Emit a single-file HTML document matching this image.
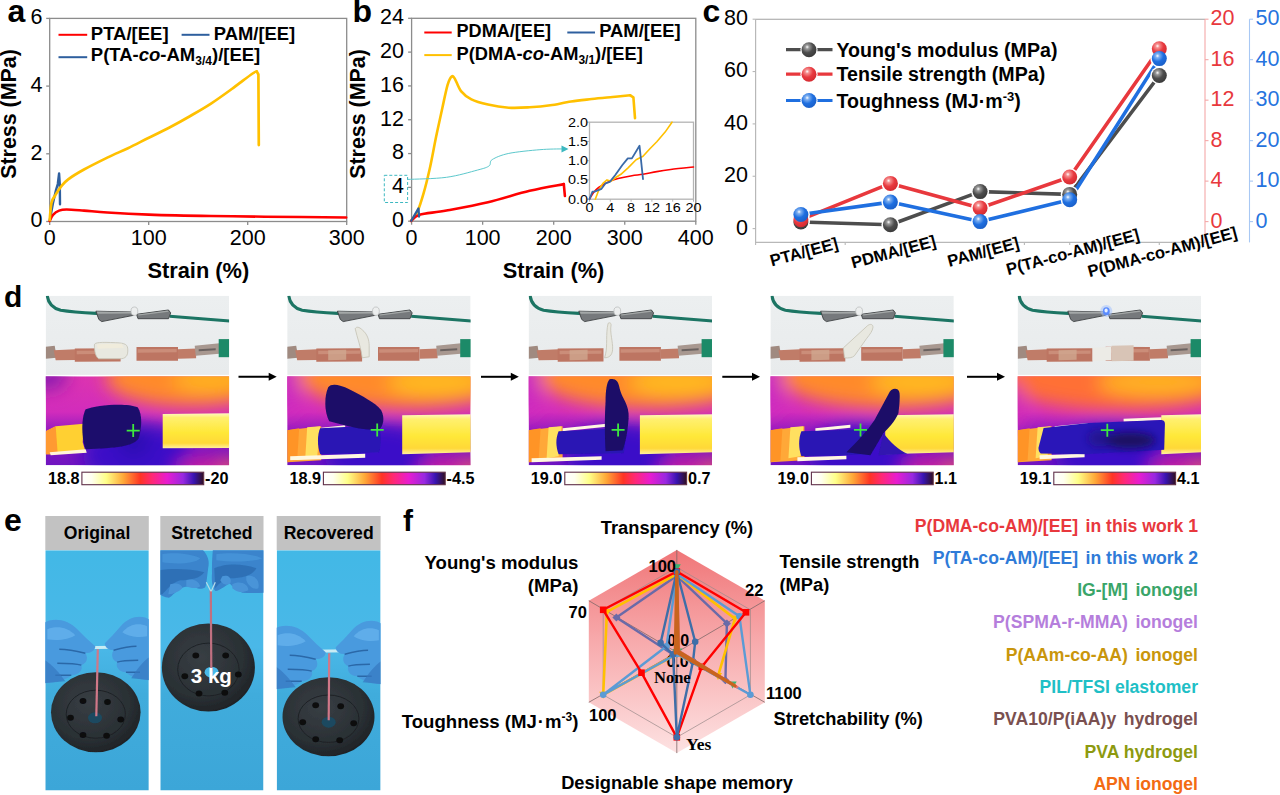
<!DOCTYPE html>
<html><head><meta charset="utf-8"><title>Figure</title>
<style>
html,body{margin:0;padding:0;background:#fff;width:1280px;height:795px;overflow:hidden}
svg text{font-family:"Liberation Sans",sans-serif}
</style></head><body>
<svg width="1280" height="795" viewBox="0 0 1280 795" style="display:block">
<rect width="1280" height="795" fill="#fff"/>
<text x="7.6" y="22.3" font-size="32" font-weight="bold" text-anchor="start" fill="#000" >a</text>
<rect x="49.7" y="18.4" width="297.0" height="203.1" fill="none" stroke="#8c8c8c" stroke-width="1.3"/>
<line x1="46.2" y1="221.5" x2="49.7" y2="221.5" stroke="#8c8c8c" stroke-width="1.3"/>
<text x="42.5" y="227.4" font-size="21.5" font-weight="normal" text-anchor="end" fill="#000" >0</text>
<line x1="46.2" y1="153.8" x2="49.7" y2="153.8" stroke="#8c8c8c" stroke-width="1.3"/>
<text x="42.5" y="159.70000000000002" font-size="21.5" font-weight="normal" text-anchor="end" fill="#000" >2</text>
<line x1="46.2" y1="86.1" x2="49.7" y2="86.1" stroke="#8c8c8c" stroke-width="1.3"/>
<text x="42.5" y="92.0" font-size="21.5" font-weight="normal" text-anchor="end" fill="#000" >4</text>
<line x1="46.2" y1="18.400000000000006" x2="49.7" y2="18.400000000000006" stroke="#8c8c8c" stroke-width="1.3"/>
<text x="42.5" y="24.300000000000004" font-size="21.5" font-weight="normal" text-anchor="end" fill="#000" >6</text>
<line x1="49.7" y1="221.5" x2="49.7" y2="225.0" stroke="#8c8c8c" stroke-width="1.3"/>
<text x="49.7" y="244.7" font-size="21.5" font-weight="normal" text-anchor="middle" fill="#000" >0</text>
<line x1="148.7" y1="221.5" x2="148.7" y2="225.0" stroke="#8c8c8c" stroke-width="1.3"/>
<text x="148.7" y="244.7" font-size="21.5" font-weight="normal" text-anchor="middle" fill="#000" >100</text>
<line x1="247.7" y1="221.5" x2="247.7" y2="225.0" stroke="#8c8c8c" stroke-width="1.3"/>
<text x="247.7" y="244.7" font-size="21.5" font-weight="normal" text-anchor="middle" fill="#000" >200</text>
<line x1="346.7" y1="221.5" x2="346.7" y2="225.0" stroke="#8c8c8c" stroke-width="1.3"/>
<text x="346.7" y="244.7" font-size="21.5" font-weight="normal" text-anchor="middle" fill="#000" >300</text>
<text x="198.3" y="278" font-size="21.8" font-weight="bold" text-anchor="middle" fill="#000" >Strain (%)</text>
<text x="0" y="0" font-size="21.4" font-weight="bold" text-anchor="middle" fill="#000" transform="translate(16,114) rotate(-90)">Stress (MPa)</text>
<line x1="58.5" y1="34.8" x2="87.2" y2="34.8" stroke="#ff0000" stroke-width="2"/>
<text x="90.8" y="39.6" font-size="18.5" font-weight="bold" text-anchor="start" fill="#000" >PTA/[EE]</text>
<line x1="181.6" y1="34.8" x2="209.5" y2="34.8" stroke="#2e5f9e" stroke-width="2"/>
<text x="213.8" y="39.6" font-size="18.4" font-weight="bold" text-anchor="start" fill="#000" >PAM/[EE]</text>
<line x1="58.5" y1="57.2" x2="87.2" y2="57.2" stroke="#2e5f9e" stroke-width="2"/>
<text x="90.8" y="61" font-size="18.5" font-weight="bold">P(TA-<tspan font-style="italic">co</tspan>-AM<tspan font-size="12" dy="4">3/4</tspan><tspan dy="-4">)/[EE]</tspan></text>
<path d="M49.8,220.0 L53.0,203.0 L56.0,190.0 L57.8,184.0 L59.1,173.5 L59.8,184.5 L60.0,204.2" fill="none" stroke="#2e5f9e" stroke-width="2.4" stroke-linejoin="round" stroke-linecap="round" />
<path d="M49.7,221.0 C50.2,220.0 51.4,216.5 53.0,214.8 C54.6,213.1 56.8,211.5 59.1,210.6 C61.4,209.7 62.4,209.5 66.6,209.5 C70.8,209.5 77.2,210.1 84.0,210.6 C90.8,211.1 96.5,211.8 107.3,212.5 C118.1,213.2 131.5,214.0 148.8,214.6 C166.1,215.2 191.6,215.7 211.0,216.0 C230.4,216.3 242.5,216.4 265.0,216.7 C287.5,216.9 332.7,217.4 346.2,217.5" fill="none" stroke="#ff0000" stroke-width="2.6" stroke-linejoin="round" stroke-linecap="round" />
<path d="M49.7,220.0 C50.0,217.1 50.6,206.8 51.5,202.7 C52.4,198.6 53.6,198.0 55.3,195.2 C56.9,192.4 59.2,188.8 61.4,186.1 C63.5,183.4 64.4,182.1 68.2,179.3 C72.0,176.5 77.5,173.1 84.0,169.5 C90.5,165.9 100.0,161.2 107.3,157.6 C114.6,154.0 121.1,151.5 128.0,148.2 C134.9,144.9 141.9,141.2 148.8,137.8 C155.7,134.4 162.6,131.1 169.5,127.5 C176.4,123.9 183.4,120.0 190.3,116.0 C197.2,112.0 204.1,108.1 211.0,103.6 C217.9,99.1 224.9,94.0 231.8,89.0 C238.7,84.0 248.4,76.4 252.6,73.5 C256.8,70.6 256.0,71.8 256.7,71.4" fill="none" stroke="#ffc000" stroke-width="2.7" stroke-linejoin="round" stroke-linecap="round" />
<path d="M256.7,71.4 L258.4,74.5 L258.8,145.1" fill="none" stroke="#ffc000" stroke-width="2.7" stroke-linejoin="round" stroke-linecap="round" />
<text x="352.6" y="22.3" font-size="32" font-weight="bold" text-anchor="start" fill="#000" >b</text>
<rect x="411.6" y="18.3" width="284.19999999999993" height="202.89999999999998" fill="none" stroke="#8c8c8c" stroke-width="1.3"/>
<line x1="408.1" y1="221.2" x2="411.6" y2="221.2" stroke="#8c8c8c" stroke-width="1.3"/>
<text x="404" y="227.1" font-size="21.5" font-weight="normal" text-anchor="end" fill="#000" >0</text>
<line x1="408.1" y1="187.38333333333333" x2="411.6" y2="187.38333333333333" stroke="#8c8c8c" stroke-width="1.3"/>
<text x="404" y="193.28333333333333" font-size="21.5" font-weight="normal" text-anchor="end" fill="#000" >4</text>
<line x1="408.1" y1="153.56666666666666" x2="411.6" y2="153.56666666666666" stroke="#8c8c8c" stroke-width="1.3"/>
<text x="404" y="159.46666666666667" font-size="21.5" font-weight="normal" text-anchor="end" fill="#000" >8</text>
<line x1="408.1" y1="119.75" x2="411.6" y2="119.75" stroke="#8c8c8c" stroke-width="1.3"/>
<text x="404" y="125.65" font-size="21.5" font-weight="normal" text-anchor="end" fill="#000" >12</text>
<line x1="408.1" y1="85.93333333333334" x2="411.6" y2="85.93333333333334" stroke="#8c8c8c" stroke-width="1.3"/>
<text x="404" y="91.83333333333334" font-size="21.5" font-weight="normal" text-anchor="end" fill="#000" >16</text>
<line x1="408.1" y1="52.116666666666674" x2="411.6" y2="52.116666666666674" stroke="#8c8c8c" stroke-width="1.3"/>
<text x="404" y="58.01666666666667" font-size="21.5" font-weight="normal" text-anchor="end" fill="#000" >20</text>
<line x1="408.1" y1="18.30000000000001" x2="411.6" y2="18.30000000000001" stroke="#8c8c8c" stroke-width="1.3"/>
<text x="404" y="24.20000000000001" font-size="21.5" font-weight="normal" text-anchor="end" fill="#000" >24</text>
<line x1="411.6" y1="221.2" x2="411.6" y2="224.7" stroke="#8c8c8c" stroke-width="1.3"/>
<text x="411.6" y="244.7" font-size="21.5" font-weight="normal" text-anchor="middle" fill="#000" >0</text>
<line x1="482.65" y1="221.2" x2="482.65" y2="224.7" stroke="#8c8c8c" stroke-width="1.3"/>
<text x="482.65" y="244.7" font-size="21.5" font-weight="normal" text-anchor="middle" fill="#000" >100</text>
<line x1="553.7" y1="221.2" x2="553.7" y2="224.7" stroke="#8c8c8c" stroke-width="1.3"/>
<text x="553.7" y="244.7" font-size="21.5" font-weight="normal" text-anchor="middle" fill="#000" >200</text>
<line x1="624.75" y1="221.2" x2="624.75" y2="224.7" stroke="#8c8c8c" stroke-width="1.3"/>
<text x="624.75" y="244.7" font-size="21.5" font-weight="normal" text-anchor="middle" fill="#000" >300</text>
<line x1="695.8" y1="221.2" x2="695.8" y2="224.7" stroke="#8c8c8c" stroke-width="1.3"/>
<text x="695.8" y="244.7" font-size="21.5" font-weight="normal" text-anchor="middle" fill="#000" >400</text>
<text x="553.5" y="278" font-size="21.8" font-weight="bold" text-anchor="middle" fill="#000" >Strain (%)</text>
<text x="0" y="0" font-size="21.4" font-weight="bold" text-anchor="middle" fill="#000" transform="translate(365,114) rotate(-90)">Stress (MPa)</text>
<line x1="424.3" y1="32.5" x2="451.7" y2="32.5" stroke="#ff0000" stroke-width="2"/>
<text x="456.5" y="37" font-size="18.1" font-weight="bold" text-anchor="start" fill="#000" >PDMA/[EE]</text>
<line x1="567.3" y1="32.5" x2="595" y2="32.5" stroke="#2e5f9e" stroke-width="2"/>
<text x="599.2" y="37" font-size="18.4" font-weight="bold" text-anchor="start" fill="#000" >PAM/[EE]</text>
<line x1="424.3" y1="55.1" x2="451.7" y2="55.1" stroke="#ffc000" stroke-width="2"/>
<text x="456.5" y="59.5" font-size="18.3" font-weight="bold">P(DMA-<tspan font-style="italic">co</tspan>-AM<tspan font-size="12" dy="4">3/1</tspan><tspan dy="-4">)/[EE]</tspan></text>
<path d="M411.2,220.9 C412.2,219.3 415.4,216.2 417.5,211.5 C419.6,206.8 421.6,200.2 423.7,192.9 C425.8,185.7 427.8,177.3 429.9,168.0 C432.0,158.7 434.0,146.9 436.1,136.8 C438.2,126.8 440.5,116.4 442.4,107.7 C444.3,99.0 446.1,90.1 447.6,84.9 C449.2,79.7 450.5,77.6 451.7,76.6 C452.9,75.6 453.2,76.3 454.8,78.7 C456.4,81.1 458.2,87.6 461.0,91.1 C463.8,94.5 466.9,97.2 471.4,99.4 C475.9,101.7 481.8,103.2 488.0,104.6 C494.2,106.0 501.9,107.2 508.8,107.7 C515.7,108.2 522.7,107.7 529.6,107.3 C536.5,106.9 543.4,106.3 550.3,105.3 C557.2,104.3 564.2,102.5 571.1,101.5 C578.0,100.5 584.9,99.8 591.8,99.0 C598.7,98.2 606.2,97.6 612.6,97.0 C619.0,96.4 627.3,95.6 630.2,95.3" fill="none" stroke="#ffc000" stroke-width="2.6" stroke-linejoin="round" stroke-linecap="round" />
<path d="M630.2,95.3 L633.4,97.4 L635.0,118.1" fill="none" stroke="#ffc000" stroke-width="2.6" stroke-linejoin="round" stroke-linecap="round" />
<path d="M411.2,220.9 C412.6,219.9 413.6,216.4 419.5,214.7 C425.4,213.0 435.1,212.6 446.5,210.5 C457.9,208.4 474.1,205.5 488.0,202.2 C501.9,198.9 517.0,193.8 529.6,190.8 C542.2,187.8 558.1,185.2 563.8,184.1" fill="none" stroke="#ff0000" stroke-width="2.6" stroke-linejoin="round" stroke-linecap="round" />
<path d="M563.8,184.1 L564.9,196.0" fill="none" stroke="#ff0000" stroke-width="2.6" stroke-linejoin="round" stroke-linecap="round" />
<path d="M411.2,220.9 L418.5,208.4 L419.1,216.7" fill="none" stroke="#2e5f9e" stroke-width="2.2" stroke-linejoin="round" stroke-linecap="round" />
<rect x="384.3" y="175.3" width="23.3" height="27.2" fill="none" stroke="#3cb8c0" stroke-width="1" stroke-dasharray="3,2"/>
<path d="M407.6,179.4 C414.1,179.1 434.8,178.9 446.5,177.3 C458.2,175.7 470.6,171.9 477.7,170.0 C484.8,168.1 486.7,167.6 489.1,165.9 C491.5,164.2 488.9,161.7 492.2,159.6 C495.5,157.5 500.9,155.1 508.8,153.4 C516.8,151.8 530.9,150.4 539.9,149.7 C548.9,148.9 559.0,149.0 562.8,148.9" fill="none" stroke="#5cc8cc" stroke-width="1" stroke-linejoin="round" stroke-linecap="round" />
<path d="M568.5,148.9 L561.5,145.4 L561.5,152.4 Z" fill="#3cb8c0"/>
<rect x="589.5" y="122.2" width="104.0" height="76.99999999999999" fill="#fff" stroke="#b4b4b4" stroke-width="1.3"/>
<line x1="587.0" y1="199.2" x2="589.5" y2="199.2" stroke="#b4b4b4" stroke-width="1"/>
<text transform="translate(588,203.5) scale(1.2,1)" font-size="12" text-anchor="end">0.0</text>
<line x1="587.0" y1="179.95" x2="589.5" y2="179.95" stroke="#b4b4b4" stroke-width="1"/>
<text transform="translate(588,184.25) scale(1.2,1)" font-size="12" text-anchor="end">0.5</text>
<line x1="587.0" y1="160.7" x2="589.5" y2="160.7" stroke="#b4b4b4" stroke-width="1"/>
<text transform="translate(588,165.0) scale(1.2,1)" font-size="12" text-anchor="end">1.0</text>
<line x1="587.0" y1="141.45" x2="589.5" y2="141.45" stroke="#b4b4b4" stroke-width="1"/>
<text transform="translate(588,145.75) scale(1.2,1)" font-size="12" text-anchor="end">1.5</text>
<line x1="587.0" y1="122.2" x2="589.5" y2="122.2" stroke="#b4b4b4" stroke-width="1"/>
<text transform="translate(588,126.5) scale(1.2,1)" font-size="12" text-anchor="end">2.0</text>
<line x1="589.5" y1="199.2" x2="589.5" y2="201.7" stroke="#b4b4b4" stroke-width="1"/>
<text transform="translate(589.5,212.4) scale(1.2,1)" font-size="12" text-anchor="middle">0</text>
<line x1="610.3" y1="199.2" x2="610.3" y2="201.7" stroke="#b4b4b4" stroke-width="1"/>
<text transform="translate(610.3,212.4) scale(1.2,1)" font-size="12" text-anchor="middle">4</text>
<line x1="631.1" y1="199.2" x2="631.1" y2="201.7" stroke="#b4b4b4" stroke-width="1"/>
<text transform="translate(631.1,212.4) scale(1.2,1)" font-size="12" text-anchor="middle">8</text>
<line x1="651.9" y1="199.2" x2="651.9" y2="201.7" stroke="#b4b4b4" stroke-width="1"/>
<text transform="translate(651.9,212.4) scale(1.2,1)" font-size="12" text-anchor="middle">12</text>
<line x1="672.7" y1="199.2" x2="672.7" y2="201.7" stroke="#b4b4b4" stroke-width="1"/>
<text transform="translate(672.7,212.4) scale(1.2,1)" font-size="12" text-anchor="middle">16</text>
<line x1="693.5" y1="199.2" x2="693.5" y2="201.7" stroke="#b4b4b4" stroke-width="1"/>
<text transform="translate(693.5,212.4) scale(1.2,1)" font-size="12" text-anchor="middle">20</text>
<path d="M589.5,199.2 C590.1,198.2 591.7,194.9 593.2,193.0 C594.7,191.1 596.2,189.3 598.7,187.5 C601.2,185.7 605.2,183.4 608.4,181.9 C611.6,180.4 614.2,179.5 618.1,178.5 C622.0,177.5 627.8,176.4 631.9,175.7 C636.0,175.0 638.9,175.0 643.0,174.3 C647.1,173.6 652.2,172.4 656.8,171.6 C661.4,170.8 664.6,170.3 670.7,169.5 C676.8,168.7 689.7,167.4 693.5,167.0" fill="none" stroke="#ff0000" stroke-width="1.6" stroke-linejoin="round" stroke-linecap="round" />
<path d="M595.3,199.2 L598.7,190.2 L602.9,183.3 L607.0,179.9 L611.2,181.2 L615.3,177.8 L620.9,174.3 L627.8,168.1 L636.1,159.8 L643.0,156.3 L649.9,148.7 L656.8,141.8 L665.1,132.1 L672.0,122.2" fill="none" stroke="#ffc000" stroke-width="1.6" stroke-linejoin="round" stroke-linecap="round" />
<path d="M589.5,199.2 L592.5,191.6 L594.6,191.6 L601.5,188.8 L605.6,183.3 L609.8,181.9 L615.3,175.0 L622.2,165.3 L627.8,158.4 L631.9,158.4 L639.5,145.7 L643.0,179.2" fill="none" stroke="#3a6aa8" stroke-width="1.8" stroke-linejoin="round" stroke-linecap="round" />
<defs>
<radialGradient id="sg_k" cx="0.38" cy="0.32" r="0.7"><stop offset="0" stop-color="#ffffff"/><stop offset="0.18" stop-color="#9a9a9a"/><stop offset="0.55" stop-color="#4d4d4d"/><stop offset="1" stop-color="#3a3a3a"/></radialGradient>
<radialGradient id="sg_r" cx="0.38" cy="0.32" r="0.7"><stop offset="0" stop-color="#ffffff"/><stop offset="0.18" stop-color="#f59090"/><stop offset="0.55" stop-color="#e83a40"/><stop offset="1" stop-color="#d42a30"/></radialGradient>
<radialGradient id="sg_b" cx="0.38" cy="0.32" r="0.7"><stop offset="0" stop-color="#ffffff"/><stop offset="0.18" stop-color="#7fb0f0"/><stop offset="0.55" stop-color="#1f6fe0"/><stop offset="1" stop-color="#1a5fc8"/></radialGradient>
</defs>
<text x="702.5" y="22.3" font-size="32" font-weight="bold" text-anchor="start" fill="#000" >c</text>
<line x1="755.6" y1="19.2" x2="1205" y2="19.2" stroke="#a0a0a0" stroke-width="1.1"/>
<path d="M755.6,19.2 L755.6,242.4 L1205,242.4" fill="none" stroke="#b8b8b8" stroke-width="1.2"/>
<line x1="1205" y1="19.2" x2="1205" y2="242.4" stroke="#f4a8a8" stroke-width="1.1"/>
<line x1="1249.5" y1="19.2" x2="1249.5" y2="242.4" stroke="#a8c8f4" stroke-width="1.1"/>
<line x1="752.6" y1="228.6" x2="755.6" y2="228.6" stroke="#b8b8b8" stroke-width="1.1"/>
<text x="748" y="234.5" font-size="21.5" font-weight="normal" text-anchor="end" fill="#000" >0</text>
<line x1="752.6" y1="176.25" x2="755.6" y2="176.25" stroke="#b8b8b8" stroke-width="1.1"/>
<text x="748" y="182.15" font-size="21.5" font-weight="normal" text-anchor="end" fill="#000" >20</text>
<line x1="752.6" y1="123.89999999999999" x2="755.6" y2="123.89999999999999" stroke="#b8b8b8" stroke-width="1.1"/>
<text x="748" y="129.79999999999998" font-size="21.5" font-weight="normal" text-anchor="end" fill="#000" >40</text>
<line x1="752.6" y1="71.54999999999998" x2="755.6" y2="71.54999999999998" stroke="#b8b8b8" stroke-width="1.1"/>
<text x="748" y="77.44999999999999" font-size="21.5" font-weight="normal" text-anchor="end" fill="#000" >60</text>
<line x1="752.6" y1="19.19999999999999" x2="755.6" y2="19.19999999999999" stroke="#b8b8b8" stroke-width="1.1"/>
<text x="748" y="25.099999999999987" font-size="21.5" font-weight="normal" text-anchor="end" fill="#000" >80</text>
<line x1="1205" y1="221.6" x2="1208.5" y2="221.6" stroke="#f4a8a8" stroke-width="1.1"/>
<text x="1210.5" y="227.5" font-size="21.5" font-weight="normal" text-anchor="start" fill="#e8383d" >0</text>
<line x1="1249.5" y1="221.6" x2="1253" y2="221.6" stroke="#a8c8f4" stroke-width="1.1"/>
<text x="1255.5" y="227.5" font-size="21.5" font-weight="normal" text-anchor="start" fill="#2673de" >0</text>
<line x1="1205" y1="181.12" x2="1208.5" y2="181.12" stroke="#f4a8a8" stroke-width="1.1"/>
<text x="1210.5" y="187.02" font-size="21.5" font-weight="normal" text-anchor="start" fill="#e8383d" >4</text>
<line x1="1249.5" y1="181.12" x2="1253" y2="181.12" stroke="#a8c8f4" stroke-width="1.1"/>
<text x="1255.5" y="187.02" font-size="21.5" font-weight="normal" text-anchor="start" fill="#2673de" >10</text>
<line x1="1205" y1="140.64" x2="1208.5" y2="140.64" stroke="#f4a8a8" stroke-width="1.1"/>
<text x="1210.5" y="146.54" font-size="21.5" font-weight="normal" text-anchor="start" fill="#e8383d" >8</text>
<line x1="1249.5" y1="140.64" x2="1253" y2="140.64" stroke="#a8c8f4" stroke-width="1.1"/>
<text x="1255.5" y="146.54" font-size="21.5" font-weight="normal" text-anchor="start" fill="#2673de" >20</text>
<line x1="1205" y1="100.16" x2="1208.5" y2="100.16" stroke="#f4a8a8" stroke-width="1.1"/>
<text x="1210.5" y="106.06" font-size="21.5" font-weight="normal" text-anchor="start" fill="#e8383d" >12</text>
<line x1="1249.5" y1="100.16" x2="1253" y2="100.16" stroke="#a8c8f4" stroke-width="1.1"/>
<text x="1255.5" y="106.06" font-size="21.5" font-weight="normal" text-anchor="start" fill="#2673de" >30</text>
<line x1="1205" y1="59.68000000000001" x2="1208.5" y2="59.68000000000001" stroke="#f4a8a8" stroke-width="1.1"/>
<text x="1210.5" y="65.58000000000001" font-size="21.5" font-weight="normal" text-anchor="start" fill="#e8383d" >16</text>
<line x1="1249.5" y1="59.68000000000001" x2="1253" y2="59.68000000000001" stroke="#a8c8f4" stroke-width="1.1"/>
<text x="1255.5" y="65.58000000000001" font-size="21.5" font-weight="normal" text-anchor="start" fill="#2673de" >40</text>
<line x1="1205" y1="19.200000000000017" x2="1208.5" y2="19.200000000000017" stroke="#f4a8a8" stroke-width="1.1"/>
<text x="1210.5" y="25.100000000000016" font-size="21.5" font-weight="normal" text-anchor="start" fill="#e8383d" >20</text>
<line x1="1249.5" y1="19.200000000000017" x2="1253" y2="19.200000000000017" stroke="#a8c8f4" stroke-width="1.1"/>
<text x="1255.5" y="25.100000000000016" font-size="21.5" font-weight="normal" text-anchor="start" fill="#2673de" >50</text>
<line x1="755.6" y1="242.4" x2="755.6" y2="244.9" stroke="#b8b8b8" stroke-width="1.1"/>
<line x1="845.2" y1="242.4" x2="845.2" y2="244.9" stroke="#b8b8b8" stroke-width="1.1"/>
<line x1="934.8" y1="242.4" x2="934.8" y2="244.9" stroke="#b8b8b8" stroke-width="1.1"/>
<line x1="1024.4" y1="242.4" x2="1024.4" y2="244.9" stroke="#b8b8b8" stroke-width="1.1"/>
<line x1="1114.0" y1="242.4" x2="1114.0" y2="244.9" stroke="#b8b8b8" stroke-width="1.1"/>
<line x1="1203.6" y1="242.4" x2="1203.6" y2="244.9" stroke="#b8b8b8" stroke-width="1.1"/>
<line x1="800.9" y1="242.4" x2="800.9" y2="244.9" stroke="#b8b8b8" stroke-width="1.1"/>
<line x1="890.4" y1="242.4" x2="890.4" y2="244.9" stroke="#b8b8b8" stroke-width="1.1"/>
<line x1="980.1" y1="242.4" x2="980.1" y2="244.9" stroke="#b8b8b8" stroke-width="1.1"/>
<line x1="1069.7" y1="242.4" x2="1069.7" y2="244.9" stroke="#b8b8b8" stroke-width="1.1"/>
<line x1="1159.3" y1="242.4" x2="1159.3" y2="244.9" stroke="#b8b8b8" stroke-width="1.1"/>
<text transform="translate(805.4,257.4) rotate(-15)" font-size="16.6" font-weight="bold" text-anchor="middle">PTA/[EE]</text>
<text transform="translate(894.9,257.4) rotate(-15)" font-size="16.6" font-weight="bold" text-anchor="middle">PDMA/[EE]</text>
<text transform="translate(984.6,257.4) rotate(-15)" font-size="16.6" font-weight="bold" text-anchor="middle">PAM/[EE]</text>
<text transform="translate(1074.2,257.4) rotate(-15)" font-size="16.6" font-weight="bold" text-anchor="middle">P(TA-co-AM)/[EE]</text>
<text transform="translate(1163.8,257.4) rotate(-15)" font-size="16.6" font-weight="bold" text-anchor="middle">P(DMA-co-AM)/[EE]</text>
<path d="M800.9,222 L890.4,224.8 L980.1,191.6 L1069.7,194.4 L1159.3,75.5" fill="none" stroke="#4d4d4d" stroke-width="3.6" stroke-linejoin="round"/>
<path d="M800.9,219.7 L890.4,183.4 L980.1,208 L1069.7,177 L1159.3,48.7" fill="none" stroke="#e8383d" stroke-width="3.6" stroke-linejoin="round"/>
<path d="M800.9,214.5 L890.4,202.1 L980.1,221.6 L1069.7,199.8 L1159.3,58.6" fill="none" stroke="#1f6fe0" stroke-width="3.6" stroke-linejoin="round"/>
<circle cx="800.9" cy="222" r="9" fill="#fff"/>
<circle cx="890.4" cy="224.8" r="9" fill="#fff"/>
<circle cx="980.1" cy="191.6" r="9" fill="#fff"/>
<circle cx="1069.7" cy="194.4" r="9" fill="#fff"/>
<circle cx="1159.3" cy="75.5" r="9" fill="#fff"/>
<circle cx="800.9" cy="219.7" r="9" fill="#fff"/>
<circle cx="890.4" cy="183.4" r="9" fill="#fff"/>
<circle cx="980.1" cy="208" r="9" fill="#fff"/>
<circle cx="1069.7" cy="177" r="9" fill="#fff"/>
<circle cx="1159.3" cy="48.7" r="9" fill="#fff"/>
<circle cx="800.9" cy="214.5" r="9" fill="#fff"/>
<circle cx="890.4" cy="202.1" r="9" fill="#fff"/>
<circle cx="980.1" cy="221.6" r="9" fill="#fff"/>
<circle cx="1069.7" cy="199.8" r="9" fill="#fff"/>
<circle cx="1159.3" cy="58.6" r="9" fill="#fff"/>
<circle cx="800.9" cy="222" r="7.5" fill="url(#sg_k)"/>
<circle cx="890.4" cy="224.8" r="7.5" fill="url(#sg_k)"/>
<circle cx="980.1" cy="191.6" r="7.5" fill="url(#sg_k)"/>
<circle cx="1069.7" cy="194.4" r="7.5" fill="url(#sg_k)"/>
<circle cx="1159.3" cy="75.5" r="7.5" fill="url(#sg_k)"/>
<circle cx="800.9" cy="219.7" r="7.5" fill="url(#sg_r)"/>
<circle cx="890.4" cy="183.4" r="7.5" fill="url(#sg_r)"/>
<circle cx="980.1" cy="208" r="7.5" fill="url(#sg_r)"/>
<circle cx="1069.7" cy="177" r="7.5" fill="url(#sg_r)"/>
<circle cx="1159.3" cy="48.7" r="7.5" fill="url(#sg_r)"/>
<circle cx="800.9" cy="214.5" r="7.5" fill="url(#sg_b)"/>
<circle cx="890.4" cy="202.1" r="7.5" fill="url(#sg_b)"/>
<circle cx="980.1" cy="221.6" r="7.5" fill="url(#sg_b)"/>
<circle cx="1069.7" cy="199.8" r="7.5" fill="url(#sg_b)"/>
<circle cx="1159.3" cy="58.6" r="7.5" fill="url(#sg_b)"/>
<line x1="786" y1="49.7" x2="832.5" y2="49.7" stroke="#4d4d4d" stroke-width="3.2"/>
<circle cx="809" cy="49.7" r="8.6" fill="#fff"/>
<circle cx="809" cy="49.7" r="7.5" fill="url(#sg_k)"/>
<text x="836.5" y="56.7" font-size="19.6" font-weight="bold">Young's modulus (MPa)</text>
<line x1="786" y1="74.2" x2="832.5" y2="74.2" stroke="#e8383d" stroke-width="3.2"/>
<circle cx="809" cy="74.2" r="8.6" fill="#fff"/>
<circle cx="809" cy="74.2" r="7.5" fill="url(#sg_r)"/>
<text x="836.5" y="81.2" font-size="19.6" font-weight="bold">Tensile strength (MPa)</text>
<line x1="786" y1="100.5" x2="832.5" y2="100.5" stroke="#1f6fe0" stroke-width="3.2"/>
<circle cx="809" cy="100.5" r="8.6" fill="#fff"/>
<circle cx="809" cy="100.5" r="7.5" fill="url(#sg_b)"/>
<text x="836.5" y="107.5" font-size="19.6" font-weight="bold">Toughness (MJ·m<tspan font-size="13" dy="-7">-3</tspan><tspan dy="7">)</tspan></text>
<defs>
<linearGradient id="cbar" x1="0" x2="1" y1="0" y2="0">
<stop offset="0" stop-color="#ffffff"/><stop offset="0.08" stop-color="#fffff0"/><stop offset="0.2" stop-color="#ffff88"/>
<stop offset="0.34" stop-color="#ffa838"/><stop offset="0.48" stop-color="#ff3424"/><stop offset="0.58" stop-color="#ff2878"/>
<stop offset="0.7" stop-color="#e81cd0"/><stop offset="0.83" stop-color="#9828e0"/><stop offset="0.92" stop-color="#3814b0"/><stop offset="1" stop-color="#301020"/>
</linearGradient>
<linearGradient id="photobg" x1="0" x2="0" y1="0" y2="1"><stop offset="0" stop-color="#eceff0"/><stop offset="1" stop-color="#e8ebec"/></linearGradient>
<linearGradient id="thbase" x1="0" x2="0" y1="0" y2="1"><stop offset="0" stop-color="#dc34b0"/><stop offset="0.4" stop-color="#d22cbc"/><stop offset="0.65" stop-color="#8a18c0"/><stop offset="1" stop-color="#7014c0"/></linearGradient>
<linearGradient id="thh" x1="0" x2="1" y1="0" y2="0"><stop offset="0" stop-color="#b828c8"/><stop offset="0.35" stop-color="#e83898"/><stop offset="0.6" stop-color="#ff8830"/><stop offset="1" stop-color="#ffb020"/></linearGradient>
<linearGradient id="thv" x1="0" x2="0" y1="0" y2="1"><stop offset="0" stop-color="#7010c0" stop-opacity="0"/><stop offset="0.35" stop-color="#a018c0" stop-opacity="0.25"/><stop offset="0.6" stop-color="#6010c0" stop-opacity="0.85"/><stop offset="1" stop-color="#8018b8" stop-opacity="0.9"/></linearGradient>
<linearGradient id="elecR" x1="0" x2="0" y1="0" y2="1"><stop offset="0" stop-color="#fff8c0"/><stop offset="0.12" stop-color="#fff070"/><stop offset="0.55" stop-color="#ffe838"/><stop offset="0.85" stop-color="#ffd838"/><stop offset="1" stop-color="#fff0a0"/></linearGradient>
<linearGradient id="elec" x1="0" x2="0" y1="0" y2="1"><stop offset="0" stop-color="#fff0a0"/><stop offset="0.5" stop-color="#ffe060"/><stop offset="1" stop-color="#ffc040"/></linearGradient>
<linearGradient id="copper" x1="0" x2="0" y1="0" y2="1"><stop offset="0" stop-color="#c07a60"/><stop offset="0.5" stop-color="#d09a80"/><stop offset="1" stop-color="#a86850"/></linearGradient>
<filter id="bl1" x="-20%" y="-20%" width="140%" height="140%"><feGaussianBlur stdDeviation="1"/></filter>
<filter id="bl4" filterUnits="userSpaceOnUse" x="-50" y="-50" width="300" height="200"><feGaussianBlur stdDeviation="4"/></filter>
<filter id="bl07" x="-10%" y="-10%" width="120%" height="120%"><feGaussianBlur stdDeviation="0.6"/></filter>
<filter id="bl3" x="-30%" y="-30%" width="160%" height="160%"><feGaussianBlur stdDeviation="4"/></filter>
<filter id="bl6" filterUnits="userSpaceOnUse" x="-100" y="-100" width="400" height="300"><feGaussianBlur stdDeviation="9"/></filter>
</defs>
<text x="4" y="306.5" font-size="30" font-weight="bold" text-anchor="start" fill="#000" >d</text>
<svg x="45.7" y="295.8" width="183.4" height="79.09999999999997" overflow="hidden">
<rect width="183.4" height="79.09999999999997" fill="url(#photobg)"/>
<g filter="url(#bl07)">
<path d="M1.5,0 C2.5,7 7,12.5 15,14.5 C27,16.4 40,17 52,17.6" fill="none" stroke="#1c7464" stroke-width="3.1"/>
<path d="M124,20.5 C145,22 165,23.6 184,25.2" fill="none" stroke="#1c7464" stroke-width="3.1"/>
<polygon points="50.2,15.4 86.5,16.2 88.0,19.5 56.0,25.8 53.1,23.6" fill="#76797b" stroke="#3e4244" stroke-width="0.9"/>
<polygon points="51.0,15.6 86.0,16.2 86.0,17.6 52.0,18.0" fill="#a4a8a8" />
<polygon points="90.8,18.5 122.8,14.2 125.0,17.1 122.8,22.9 92.3,22.9" fill="#76797b" stroke="#3e4244" stroke-width="0.9"/>
<polygon points="92.0,18.6 122.0,14.6 123.0,16.0 93.0,19.8" fill="#a4a8a8" />
<ellipse cx="88.7" cy="15.4" rx="3.4" ry="4.2" fill="#eceeee" stroke="#b4b8b8" stroke-width="0.7"/>
<polygon points="0.0,51.0 9.0,50.0 11.0,62.0 0.0,63.0" fill="#a08a80" />
<polygon points="8.0,54.5 29.8,53.4 29.8,64.3 10.0,64.5" fill="#c07c68" />
<polygon points="29.1,52.7 74.9,52.4 74.9,65.8 29.1,66.0" fill="#bd7562" />
<polygon points="31.0,55.0 73.0,54.6 73.0,58.0 31.0,58.5" fill="#d49c88" opacity="0.6"/>
<polygon points="90.8,51.2 132.3,51.2 132.3,65.0 90.8,65.0" fill="#bd7562" />
<polygon points="92.0,53.5 131.0,53.3 131.0,56.5 92.0,57.0" fill="#d49c88" opacity="0.6"/>
<polygon points="132.3,53.4 150.4,52.8 150.4,62.5 132.3,62.9" fill="#c07c68" />
<polygon points="149.0,50.0 173.7,47.5 173.7,58.0 150.0,60.0" fill="#a89890" />
<polygon points="153.0,53.5 170.0,52.5 170.0,54.5 153.0,55.5" fill="#6a6260" />
<polygon points="173.0,43.3 184.0,43.3 184.0,61.4 173.0,61.4" fill="#1f8a68" />
<path d="M48.7,49 C49,46.5 55,46.2 70,46.9 C80,47.2 82,49 82.1,54 C82.3,60 80,63 74,63 L53,63 C50,61 48.7,56 48.7,49 Z" fill="#e8e8e0" stroke="#c4c2b4" stroke-width="0.8"/>
<path d="M51,48.5 L76,48 L78,52 L52,53 Z" fill="#f0ecdc"/>
</g></svg>
<svg x="45.7" y="376.3" width="183.4" height="89.0" overflow="hidden">
<rect width="183.4" height="89.0" fill="url(#thbase)"/>
<g filter="url(#bl6)">
<ellipse cx="145" cy="2" rx="85" ry="28" fill="#ff8a2c"/>
<ellipse cx="165" cy="4" rx="38" ry="13" fill="#ffb020"/>
<ellipse cx="0" cy="0" rx="22" ry="14" fill="#8a1cb0"/>
<ellipse cx="92" cy="78" rx="55" ry="30" fill="#3a10c8"/>
<ellipse cx="168" cy="92" rx="38" ry="10" fill="#d82498"/>
<ellipse cx="186" cy="92" rx="10" ry="7" fill="#ff6a30"/>
<ellipse cx="88" cy="66" rx="16" ry="14" fill="#2a10b0"/>
</g>
<g filter="url(#bl07)">
<polygon points="0.0,55.0 10.0,50.0 38.0,47.5 37.0,66.0 40.0,76.0 4.0,78.0 0.0,78.0" fill="#ffd030" />
<polygon points="0.0,55.0 10.0,50.0 12.0,78.0 0.0,78.0" fill="#ff9a30" />
<polygon points="4.0,76.0 40.0,73.0 41.0,76.5 5.0,79.0" fill="#fff4d8" />
<polygon points="117.0,37.7 184.0,37.0 184.0,71.7 117.0,72.0" fill="url(#elecR)" />
<path d="M40,33 C50,29 80,26 92,31 C97,38 96,52 93,62 C88,70 70,72 40,73 C36,64 35,42 40,33 Z" fill="#1c0c6c"/>
</g>
<path d="M81.0,54.3 L94.0,54.3 M87.5,47.8 L87.5,60.8" stroke="#3ee83e" stroke-width="1.8"/>
</svg>
<rect x="81.9" y="472.2" width="121.8" height="12.5" fill="url(#cbar)" stroke="#603048" stroke-width="1.1"/>
<text x="79.4" y="484.3" font-size="16.2" font-weight="bold" text-anchor="end" fill="#000" >18.8</text>
<text x="205.10000000000002" y="484.3" font-size="16.2" font-weight="bold" text-anchor="start" fill="#000" >-20</text>
<svg x="287.2" y="295.8" width="183.4" height="79.09999999999997" overflow="hidden">
<rect width="183.4" height="79.09999999999997" fill="url(#photobg)"/>
<g filter="url(#bl07)">
<path d="M1.5,0 C2.5,7 7,12.5 15,14.5 C27,16.4 40,17 52,17.6" fill="none" stroke="#1c7464" stroke-width="3.1"/>
<path d="M124,20.5 C145,22 165,23.6 184,25.2" fill="none" stroke="#1c7464" stroke-width="3.1"/>
<polygon points="50.2,15.4 86.5,16.2 88.0,19.5 56.0,25.8 53.1,23.6" fill="#76797b" stroke="#3e4244" stroke-width="0.9"/>
<polygon points="51.0,15.6 86.0,16.2 86.0,17.6 52.0,18.0" fill="#a4a8a8" />
<polygon points="90.8,18.5 122.8,14.2 125.0,17.1 122.8,22.9 92.3,22.9" fill="#76797b" stroke="#3e4244" stroke-width="0.9"/>
<polygon points="92.0,18.6 122.0,14.6 123.0,16.0 93.0,19.8" fill="#a4a8a8" />
<ellipse cx="88.7" cy="15.4" rx="3.4" ry="4.2" fill="#eceeee" stroke="#b4b8b8" stroke-width="0.7"/>
<polygon points="0.0,51.0 9.0,50.0 11.0,62.0 0.0,63.0" fill="#a08a80" />
<polygon points="8.0,54.5 29.8,53.4 29.8,64.3 10.0,64.5" fill="#c07c68" />
<polygon points="29.1,52.7 74.9,52.4 74.9,65.8 29.1,66.0" fill="#bd7562" />
<polygon points="31.0,55.0 73.0,54.6 73.0,58.0 31.0,58.5" fill="#d49c88" opacity="0.6"/>
<polygon points="90.8,51.2 132.3,51.2 132.3,65.0 90.8,65.0" fill="#bd7562" />
<polygon points="92.0,53.5 131.0,53.3 131.0,56.5 92.0,57.0" fill="#d49c88" opacity="0.6"/>
<polygon points="132.3,53.4 150.4,52.8 150.4,62.5 132.3,62.9" fill="#c07c68" />
<polygon points="149.0,50.0 173.7,47.5 173.7,58.0 150.0,60.0" fill="#a89890" />
<polygon points="153.0,53.5 170.0,52.5 170.0,54.5 153.0,55.5" fill="#6a6260" />
<polygon points="173.0,43.3 184.0,43.3 184.0,61.4 173.0,61.4" fill="#1f8a68" />
<polygon points="41.0,54.5 59.0,54.0 59.0,64.0 41.0,64.5" fill="#d0a890" opacity="0.8"/>
<path d="M68,33 C69,30.5 72,31 75,34 C80,38 82,44 82,50 L82,61 L75,62 C74,52 70,42 68,33 Z" fill="#e8e8e0" stroke="#c4c2b4" stroke-width="0.8"/>
</g></svg>
<svg x="287.2" y="376.3" width="183.4" height="89.0" overflow="hidden">
<rect width="183.4" height="89.0" fill="url(#thbase)"/>
<g filter="url(#bl6)">
<ellipse cx="120" cy="0" rx="110" ry="32" fill="#ff8a2c"/>
<ellipse cx="150" cy="6" rx="50" ry="15" fill="#ffb820"/>
<ellipse cx="-5" cy="10" rx="18" ry="30" fill="#cc2cc0"/>
<ellipse cx="92" cy="78" rx="55" ry="30" fill="#3a10c8"/>
<ellipse cx="168" cy="92" rx="38" ry="10" fill="#d82498"/>
<ellipse cx="186" cy="92" rx="10" ry="7" fill="#ff6a30"/>
</g>
<g filter="url(#bl07)">
<polygon points="0.0,54.0 34.0,50.0 34.0,84.0 0.0,86.0" fill="#ffa838" />
<polygon points="0.0,54.0 12.0,52.0 10.0,84.0 0.0,86.0" fill="#ff9428" />
<polygon points="20.0,51.0 33.0,50.0 30.0,80.0 18.0,82.0" fill="#ffe060" />
<polygon points="3.0,80.0 78.0,77.5 78.0,81.5 3.0,84.0" fill="#fff8e0" />
<polygon points="34.0,51.5 58.0,49.0 58.0,52.0 34.0,54.0" fill="#fff8e0" />
<path d="M33,52 L92,49 C94,55 94,70 92,76 L33,78 C30,70 30,58 33,52 Z" fill="#2a14b4"/>
<path d="M41,11 C44,7 52,8 62,13 C75,20 88,26 94,34 C98,42 96,50 92,53 C80,55 60,50 42,45 C37,35 37,20 41,11 Z" fill="#1a0c68"/>
<polygon points="115.0,39.0 184.0,38.0 184.0,76.0 115.0,77.9" fill="url(#elecR)" />
</g>
<path d="M83.5,53.6 L96.5,53.6 M90,47.1 L90,60.1" stroke="#3ee83e" stroke-width="1.8"/>
</svg>
<rect x="323.4" y="472.2" width="121.8" height="12.5" fill="url(#cbar)" stroke="#603048" stroke-width="1.1"/>
<text x="320.9" y="484.3" font-size="16.2" font-weight="bold" text-anchor="end" fill="#000" >18.9</text>
<text x="446.59999999999997" y="484.3" font-size="16.2" font-weight="bold" text-anchor="start" fill="#000" >-4.5</text>
<svg x="528.6" y="295.8" width="183.4" height="79.09999999999997" overflow="hidden">
<rect width="183.4" height="79.09999999999997" fill="url(#photobg)"/>
<g filter="url(#bl07)">
<path d="M1.5,0 C2.5,7 7,12.5 15,14.5 C27,16.4 40,17 52,17.6" fill="none" stroke="#1c7464" stroke-width="3.1"/>
<path d="M124,20.5 C145,22 165,23.6 184,25.2" fill="none" stroke="#1c7464" stroke-width="3.1"/>
<polygon points="50.2,15.4 86.5,16.2 88.0,19.5 56.0,25.8 53.1,23.6" fill="#76797b" stroke="#3e4244" stroke-width="0.9"/>
<polygon points="51.0,15.6 86.0,16.2 86.0,17.6 52.0,18.0" fill="#a4a8a8" />
<polygon points="90.8,18.5 122.8,14.2 125.0,17.1 122.8,22.9 92.3,22.9" fill="#76797b" stroke="#3e4244" stroke-width="0.9"/>
<polygon points="92.0,18.6 122.0,14.6 123.0,16.0 93.0,19.8" fill="#a4a8a8" />
<ellipse cx="88.7" cy="15.4" rx="3.4" ry="4.2" fill="#eceeee" stroke="#b4b8b8" stroke-width="0.7"/>
<polygon points="0.0,51.0 9.0,50.0 11.0,62.0 0.0,63.0" fill="#a08a80" />
<polygon points="8.0,54.5 29.8,53.4 29.8,64.3 10.0,64.5" fill="#c07c68" />
<polygon points="29.1,52.7 74.9,52.4 74.9,65.8 29.1,66.0" fill="#bd7562" />
<polygon points="31.0,55.0 73.0,54.6 73.0,58.0 31.0,58.5" fill="#d49c88" opacity="0.6"/>
<polygon points="90.8,51.2 132.3,51.2 132.3,65.0 90.8,65.0" fill="#bd7562" />
<polygon points="92.0,53.5 131.0,53.3 131.0,56.5 92.0,57.0" fill="#d49c88" opacity="0.6"/>
<polygon points="132.3,53.4 150.4,52.8 150.4,62.5 132.3,62.9" fill="#c07c68" />
<polygon points="149.0,50.0 173.7,47.5 173.7,58.0 150.0,60.0" fill="#a89890" />
<polygon points="153.0,53.5 170.0,52.5 170.0,54.5 153.0,55.5" fill="#6a6260" />
<polygon points="173.0,43.3 184.0,43.3 184.0,61.4 173.0,61.4" fill="#1f8a68" />
<polygon points="41.0,54.5 59.0,54.0 59.0,64.0 41.0,64.5" fill="#d0a890" opacity="0.8"/>
<path d="M79.5,27.5 C81,26.5 82.5,27 82.5,29 C81,37 84.5,46 84,54 C83.5,60 80,62 76,62 L77,58 C79,50 77,38 79.5,27.5 Z" fill="#e8e8e0" stroke="#c4c2b4" stroke-width="0.8"/>
</g></svg>
<svg x="528.6" y="376.3" width="183.4" height="89.0" overflow="hidden">
<rect width="183.4" height="89.0" fill="url(#thbase)"/>
<g filter="url(#bl6)">
<ellipse cx="120" cy="0" rx="110" ry="32" fill="#ff8a2c"/>
<ellipse cx="150" cy="6" rx="50" ry="15" fill="#ffb820"/>
<ellipse cx="-5" cy="10" rx="18" ry="30" fill="#cc2cc0"/>
<ellipse cx="92" cy="78" rx="55" ry="30" fill="#3a10c8"/>
<ellipse cx="168" cy="92" rx="38" ry="10" fill="#d82498"/>
<ellipse cx="186" cy="92" rx="10" ry="7" fill="#ff6a30"/>
</g>
<g filter="url(#bl07)">
<polygon points="0.0,54.0 34.0,50.0 34.0,84.0 0.0,86.0" fill="#ffa838" />
<polygon points="0.0,54.0 12.0,52.0 10.0,84.0 0.0,86.0" fill="#ff9428" />
<polygon points="20.0,51.0 33.0,50.0 30.0,80.0 18.0,82.0" fill="#ffe060" />
<polygon points="3.0,82.0 73.0,80.0 73.0,83.5 3.0,86.0" fill="#fff8e0" />
<polygon points="34.0,52.0 78.0,47.5 78.0,50.5 34.0,55.0" fill="#fff8e0" />
<path d="M30,55 L95,52 C97,60 97,72 95,77 L30,78 C27,70 27,62 30,55 Z" fill="#2a14b4"/>
<path d="M81,3 C86,1.5 90,4 91,12 C93,22 101,28 100,42 C99,56 97,66 94,74 L77,75 C76,60 76,40 77,25 C77,15 78,6 81,3 Z" fill="#1a0c68"/>
<polygon points="111.3,39.0 184.0,38.0 184.0,76.0 111.3,77.9" fill="url(#elecR)" />
</g>
<path d="M83.0,53.6 L96.0,53.6 M89.5,47.1 L89.5,60.1" stroke="#3ee83e" stroke-width="1.8"/>
</svg>
<rect x="564.8000000000001" y="472.2" width="121.8" height="12.5" fill="url(#cbar)" stroke="#603048" stroke-width="1.1"/>
<text x="562.3000000000001" y="484.3" font-size="16.2" font-weight="bold" text-anchor="end" fill="#000" >19.0</text>
<text x="688.0000000000001" y="484.3" font-size="16.2" font-weight="bold" text-anchor="start" fill="#000" >0.7</text>
<svg x="770.4" y="295.8" width="183.4" height="79.09999999999997" overflow="hidden">
<rect width="183.4" height="79.09999999999997" fill="url(#photobg)"/>
<g filter="url(#bl07)">
<path d="M1.5,0 C2.5,7 7,12.5 15,14.5 C27,16.4 40,17 52,17.6" fill="none" stroke="#1c7464" stroke-width="3.1"/>
<path d="M124,20.5 C145,22 165,23.6 184,25.2" fill="none" stroke="#1c7464" stroke-width="3.1"/>
<polygon points="50.2,15.4 86.5,16.2 88.0,19.5 56.0,25.8 53.1,23.6" fill="#76797b" stroke="#3e4244" stroke-width="0.9"/>
<polygon points="51.0,15.6 86.0,16.2 86.0,17.6 52.0,18.0" fill="#a4a8a8" />
<polygon points="90.8,18.5 122.8,14.2 125.0,17.1 122.8,22.9 92.3,22.9" fill="#76797b" stroke="#3e4244" stroke-width="0.9"/>
<polygon points="92.0,18.6 122.0,14.6 123.0,16.0 93.0,19.8" fill="#a4a8a8" />
<ellipse cx="88.7" cy="15.4" rx="3.4" ry="4.2" fill="#eceeee" stroke="#b4b8b8" stroke-width="0.7"/>
<polygon points="0.0,51.0 9.0,50.0 11.0,62.0 0.0,63.0" fill="#a08a80" />
<polygon points="8.0,54.5 29.8,53.4 29.8,64.3 10.0,64.5" fill="#c07c68" />
<polygon points="29.1,52.7 74.9,52.4 74.9,65.8 29.1,66.0" fill="#bd7562" />
<polygon points="31.0,55.0 73.0,54.6 73.0,58.0 31.0,58.5" fill="#d49c88" opacity="0.6"/>
<polygon points="90.8,51.2 132.3,51.2 132.3,65.0 90.8,65.0" fill="#bd7562" />
<polygon points="92.0,53.5 131.0,53.3 131.0,56.5 92.0,57.0" fill="#d49c88" opacity="0.6"/>
<polygon points="132.3,53.4 150.4,52.8 150.4,62.5 132.3,62.9" fill="#c07c68" />
<polygon points="149.0,50.0 173.7,47.5 173.7,58.0 150.0,60.0" fill="#a89890" />
<polygon points="153.0,53.5 170.0,52.5 170.0,54.5 153.0,55.5" fill="#6a6260" />
<polygon points="173.0,43.3 184.0,43.3 184.0,61.4 173.0,61.4" fill="#1f8a68" />
<polygon points="41.0,54.5 59.0,54.0 59.0,64.0 41.0,64.5" fill="#d0a890" opacity="0.8"/>
<path d="M73,52 L97,30 C100,27.5 103,28.5 102.5,32 C102,35 100,38 96,43 L84,60 C82,62 78,62.5 74,62 Z" fill="#e8e8e0" stroke="#c4c2b4" stroke-width="0.8"/>
</g></svg>
<svg x="770.4" y="376.3" width="183.4" height="89.0" overflow="hidden">
<rect width="183.4" height="89.0" fill="url(#thbase)"/>
<g filter="url(#bl6)">
<ellipse cx="120" cy="0" rx="110" ry="32" fill="#ff8a2c"/>
<ellipse cx="150" cy="6" rx="50" ry="15" fill="#ffb820"/>
<ellipse cx="-5" cy="10" rx="18" ry="30" fill="#cc2cc0"/>
<ellipse cx="92" cy="78" rx="55" ry="30" fill="#3a10c8"/>
<ellipse cx="168" cy="92" rx="38" ry="10" fill="#d82498"/>
<ellipse cx="186" cy="92" rx="10" ry="7" fill="#ff6a30"/>
</g>
<g filter="url(#bl07)">
<polygon points="0.0,54.0 34.0,50.0 34.0,84.0 0.0,86.0" fill="#ffa838" />
<polygon points="0.0,54.0 12.0,52.0 10.0,84.0 0.0,86.0" fill="#ff9428" />
<polygon points="20.0,51.0 33.0,50.0 30.0,80.0 18.0,82.0" fill="#ffe060" />
<polygon points="27.0,81.0 76.0,79.5 76.0,83.0 27.0,85.0" fill="#fff8e0" />
<polygon points="45.0,52.0 80.0,48.5 80.0,51.5 45.0,55.0" fill="#fff8e0" />
<path d="M31,55 L98,53 C100,60 100,72 99,78 L31,80 C28,72 28,62 31,55 Z" fill="#2a14b4"/>
<polygon points="114.8,39.0 184.0,38.0 184.0,76.0 114.8,77.9" fill="url(#elecR)" />
<path d="M76,76 C86,66 96,56 104,44 L118,18 C120,13 124,11.5 127,13 C130,15 129.5,20 129,28 L128,37 C124,46 118,52 113,57 L100,79 Z" fill="#1a0c68"/>
<path d="M113,57 C120,66 128,74 137,77.5 L108,79 Z" fill="#3014b0"/>
</g>
<path d="M83.6,53.6 L96.6,53.6 M90.1,47.1 L90.1,60.1" stroke="#3ee83e" stroke-width="1.8"/>
</svg>
<rect x="811.4" y="472.2" width="121.8" height="12.5" fill="url(#cbar)" stroke="#603048" stroke-width="1.1"/>
<text x="808.9" y="484.3" font-size="16.2" font-weight="bold" text-anchor="end" fill="#000" >19.0</text>
<text x="934.6" y="484.3" font-size="16.2" font-weight="bold" text-anchor="start" fill="#000" >1.1</text>
<svg x="1017.6" y="295.8" width="183.4" height="79.09999999999997" overflow="hidden">
<rect width="183.4" height="79.09999999999997" fill="url(#photobg)"/>
<g filter="url(#bl07)">
<path d="M1.5,0 C2.5,7 7,12.5 15,14.5 C27,16.4 40,17 52,17.6" fill="none" stroke="#1c7464" stroke-width="3.1"/>
<path d="M124,20.5 C145,22 165,23.6 184,25.2" fill="none" stroke="#1c7464" stroke-width="3.1"/>
<polygon points="50.2,15.4 86.5,16.2 88.0,19.5 56.0,25.8 53.1,23.6" fill="#76797b" stroke="#3e4244" stroke-width="0.9"/>
<polygon points="51.0,15.6 86.0,16.2 86.0,17.6 52.0,18.0" fill="#a4a8a8" />
<polygon points="90.8,18.5 122.8,14.2 125.0,17.1 122.8,22.9 92.3,22.9" fill="#76797b" stroke="#3e4244" stroke-width="0.9"/>
<polygon points="92.0,18.6 122.0,14.6 123.0,16.0 93.0,19.8" fill="#a4a8a8" />
<circle cx="88.7" cy="15.2" r="6" fill="#a0c0ff" opacity="0.5"/>
<ellipse cx="88.7" cy="15.4" rx="3.4" ry="4" fill="#5a8cff"/>
<ellipse cx="88.5" cy="14.8" rx="1.6" ry="2" fill="#e8f0ff"/>
<polygon points="0.0,51.0 9.0,50.0 11.0,62.0 0.0,63.0" fill="#a08a80" />
<polygon points="8.0,54.5 29.8,53.4 29.8,64.3 10.0,64.5" fill="#c07c68" />
<polygon points="29.1,52.7 74.9,52.4 74.9,65.8 29.1,66.0" fill="#bd7562" />
<polygon points="31.0,55.0 73.0,54.6 73.0,58.0 31.0,58.5" fill="#d49c88" opacity="0.6"/>
<polygon points="88.0,51.0 132.3,51.2 132.3,65.0 88.0,65.0" fill="#bd7562" />
<polygon points="92.0,53.5 131.0,53.3 131.0,56.5 92.0,57.0" fill="#d49c88" opacity="0.6"/>
<polygon points="132.3,53.4 150.4,52.8 150.4,62.5 132.3,62.9" fill="#c07c68" />
<polygon points="149.0,50.0 173.7,47.5 173.7,58.0 150.0,60.0" fill="#a89890" />
<polygon points="153.0,53.5 170.0,52.5 170.0,54.5 153.0,55.5" fill="#6a6260" />
<polygon points="173.0,43.3 184.0,43.3 184.0,61.4 173.0,61.4" fill="#1f8a68" />
<polygon points="41.0,54.5 59.0,54.0 59.0,64.0 41.0,64.5" fill="#d0a890" opacity="0.8"/>
<polygon points="75.0,52.0 94.0,51.0 94.0,64.5 75.0,65.0" fill="#ecebe6" />
<polygon points="94.0,50.0 116.0,49.5 116.0,65.0 94.0,65.5" fill="#d8c4b6" />
</g></svg>
<svg x="1017.6" y="376.3" width="183.4" height="89.0" overflow="hidden">
<rect width="183.4" height="89.0" fill="url(#thbase)"/>
<g filter="url(#bl6)">
<ellipse cx="105" cy="0" rx="125" ry="34" fill="#ff7034"/>
<ellipse cx="140" cy="6" rx="60" ry="15" fill="#ffb020"/>
<ellipse cx="-5" cy="30" rx="12" ry="25" fill="#d02cb8"/>
<ellipse cx="92" cy="78" rx="55" ry="30" fill="#3a10c8"/>
<ellipse cx="168" cy="92" rx="38" ry="10" fill="#d82498"/>
<ellipse cx="186" cy="92" rx="10" ry="7" fill="#ff6a30"/>
</g>
<g filter="url(#bl07)">
<polygon points="0.0,54.0 34.0,50.0 34.0,84.0 0.0,86.0" fill="#ffa838" />
<polygon points="0.0,54.0 12.0,52.0 10.0,84.0 0.0,86.0" fill="#ff9428" />
<polygon points="20.0,51.0 33.0,50.0 30.0,80.0 18.0,82.0" fill="#ffe060" />
<polygon points="22.0,79.0 67.0,77.5 67.0,81.0 22.0,83.0" fill="#fff8e0" />
<polygon points="37.0,50.0 71.0,46.6 71.0,49.5 37.0,53.0" fill="#fff8e0" />
<polygon points="106.0,42.5 144.0,41.0 144.0,44.0 106.0,45.5" fill="#fff8e0" />
<polygon points="143.7,39.0 184.0,38.0 184.0,76.0 143.7,77.9" fill="url(#elecR)" />
<path d="M26,51.7 L71,46.6 L143.7,43.7 C147,44 147.3,46 147.3,48 L146.6,73.5 L68.2,77.9 L23.1,77.2 C21,75 20.9,73 20.9,71.4 Z" fill="#2c14b8"/>
</g><g filter="url(#bl4)">
<ellipse cx="112" cy="64" rx="26" ry="8" fill="#140850" opacity="0.85"/>
<ellipse cx="82" cy="62" rx="12" ry="9" fill="#1c0c78" opacity="0.6"/>
</g>
<path d="M83.2,53.9 L96.2,53.9 M89.7,47.4 L89.7,60.4" stroke="#3ee83e" stroke-width="1.8"/>
</svg>
<rect x="1053.8" y="472.2" width="121.8" height="12.5" fill="url(#cbar)" stroke="#603048" stroke-width="1.1"/>
<text x="1051.3" y="484.3" font-size="16.2" font-weight="bold" text-anchor="end" fill="#000" >19.1</text>
<text x="1177.0" y="484.3" font-size="16.2" font-weight="bold" text-anchor="start" fill="#000" >4.1</text>
<line x1="238.5" y1="376.8" x2="270.7" y2="376.8" stroke="#000" stroke-width="2"/>
<path d="M276.7,376.8 L268.7,372.8 L268.7,380.8 Z" fill="#000"/>
<line x1="481" y1="376.8" x2="512.8" y2="376.8" stroke="#000" stroke-width="2"/>
<path d="M518.8,376.8 L510.79999999999995,372.8 L510.79999999999995,380.8 Z" fill="#000"/>
<line x1="722.3" y1="376.8" x2="754" y2="376.8" stroke="#000" stroke-width="2"/>
<path d="M760,376.8 L752,372.8 L752,380.8 Z" fill="#000"/>
<line x1="967" y1="376.8" x2="999" y2="376.8" stroke="#000" stroke-width="2"/>
<path d="M1005,376.8 L997,372.8 L997,380.8 Z" fill="#000"/>
<defs>
<linearGradient id="ebg" x1="0" x2="0" y1="0" y2="1"><stop offset="0" stop-color="#42b8e6"/><stop offset="0.4" stop-color="#4ab8e8"/><stop offset="0.6" stop-color="#40acdc"/><stop offset="1" stop-color="#3ca6d8"/></linearGradient>
<radialGradient id="disc" cx="0.42" cy="0.38" r="0.65"><stop offset="0" stop-color="#383e44"/><stop offset="0.7" stop-color="#2a3034"/><stop offset="1" stop-color="#1e2226"/></radialGradient>
<linearGradient id="glove" x1="0" x2="0" y1="0" y2="1"><stop offset="0" stop-color="#62b4ea"/><stop offset="1" stop-color="#3a80c0"/></linearGradient>
<linearGradient id="fbg" x1="0" x2="0" y1="0" y2="1"><stop offset="0" stop-color="#f07678"/><stop offset="0.45" stop-color="#f7aaac"/><stop offset="1" stop-color="#fde2e2"/></linearGradient>
</defs>
<text x="4" y="531.3" font-size="32" font-weight="bold" text-anchor="start" fill="#000" >e</text>
<rect x="45.3" y="516" width="103.50000000000001" height="34.2" fill="#c2c2c2"/>
<text x="97.05000000000001" y="539.3" font-size="17.6" font-weight="bold" text-anchor="middle" fill="#000" >Original</text>
<svg x="45.3" y="550.2" width="103.50000000000001" height="240.3" overflow="hidden">
<rect width="103.50000000000001" height="240.3" fill="url(#ebg)"/>
<g filter="url(#bl07)">
<ellipse cx="50.5" cy="162" rx="44.8" ry="40" fill="url(#disc)"/>
<ellipse cx="50.5" cy="164" rx="29.6" ry="24.0" fill="none" stroke="#1e2226" stroke-width="1"/>
<ellipse cx="37.7" cy="150.9" rx="3.4" ry="3" fill="#0c0e10"/>
<ellipse cx="62.2" cy="151.9" rx="3.4" ry="3" fill="#0c0e10"/>
<ellipse cx="25.2" cy="167.6" rx="3.4" ry="3" fill="#0c0e10"/>
<ellipse cx="75.4" cy="169.2" rx="3.4" ry="3" fill="#0c0e10"/>
<ellipse cx="37.7" cy="184.9" rx="3.4" ry="3" fill="#0c0e10"/>
<ellipse cx="61.3" cy="185.5" rx="3.4" ry="3" fill="#0c0e10"/>
<ellipse cx="49.7" cy="167.6" rx="7" ry="5.5" fill="#1a4a60"/>
<path d="M52.5,99 L51,166" stroke="#d07888" stroke-width="2.2"/>
<path d="M34,97.5 L70,97" stroke="#c8ecf4" stroke-width="3"/>
<g transform="translate(0,69) scale(1.0,1.0)">
<path d="M-2,4 C8,-2 22,0 32,10 C38,16 44,22 50,27 C50,31 46,34 40,34 C43,38 42,44 36,46 C38,50 34,56 26,56 C22,60 10,64 -2,64 Z" fill="#4a9ade"/>
<path d="M2,10 C12,6 22,8 30,16 C24,20 12,22 2,20 Z" fill="#64b2ec" opacity="0.8"/>
<path d="M14,30 C24,30 32,32 40,34 M12,44 C22,44 30,44 36,46 M10,56 C16,56 22,56 26,56" fill="none" stroke="#2a68a8" stroke-width="1.4"/>
<path d="M-2,40 C8,46 14,54 20,62 L-2,64 Z" fill="#3478c0" opacity="0.7"/>
</g>
<g transform="translate(103.5,66) scale(-0.88,1.0)">
<path d="M-2,4 C8,-2 22,0 32,10 C38,16 44,22 50,27 C50,31 46,34 40,34 C43,38 42,44 36,46 C38,50 34,56 26,56 C22,60 10,64 -2,64 Z" fill="#4a9ade"/>
<path d="M2,10 C12,6 22,8 30,16 C24,20 12,22 2,20 Z" fill="#64b2ec" opacity="0.8"/>
<path d="M14,30 C24,30 32,32 40,34 M12,44 C22,44 30,44 36,46 M10,56 C16,56 22,56 26,56" fill="none" stroke="#2a68a8" stroke-width="1.4"/>
<path d="M-2,40 C8,46 14,54 20,62 L-2,64 Z" fill="#3478c0" opacity="0.7"/>
</g>
</g>
</svg>
<rect x="160.3" y="516" width="103.19999999999999" height="34.2" fill="#c2c2c2"/>
<text x="211.9" y="539.3" font-size="17.6" font-weight="bold" text-anchor="middle" fill="#000" >Stretched</text>
<svg x="160.3" y="550.2" width="103.19999999999999" height="240.3" overflow="hidden">
<rect width="103.19999999999999" height="240.3" fill="url(#ebg)"/>
<g filter="url(#bl07)">
<ellipse cx="48.1" cy="117.3" rx="46.5" ry="44" fill="url(#disc)"/>
<ellipse cx="48.1" cy="119.3" rx="30.7" ry="26.4" fill="none" stroke="#1e2226" stroke-width="1"/>
<ellipse cx="35.5" cy="105.4" rx="3.4" ry="3" fill="#0c0e10"/>
<ellipse cx="65.4" cy="105.4" rx="3.4" ry="3" fill="#0c0e10"/>
<ellipse cx="24.5" cy="126.1" rx="3.4" ry="3" fill="#0c0e10"/>
<ellipse cx="78.0" cy="124.2" rx="3.4" ry="3" fill="#0c0e10"/>
<ellipse cx="38.7" cy="143.4" rx="3.4" ry="3" fill="#0c0e10"/>
<ellipse cx="64.5" cy="142.5" rx="3.4" ry="3" fill="#0c0e10"/>
<ellipse cx="51.3" cy="122" rx="7" ry="5.5" fill="#48b8e8"/>
<path d="M50.5,40 L51,121" stroke="#c07080" stroke-width="2.2"/>
<path d="M-1,-1 L42,-1 C47,4 49,10 48.3,15 C47,24 46.5,32 45,37 C42,39 38,39 36,37.5 C32,36 26,36 22,37.5 C16,40 12,46 8.7,47.6 C4,47 1,45 -1,44 Z" fill="#3a84cc"/>
<path d="M-1,20 C10,18 30,18 44,22 C40,28 30,30 20,30 C12,32 6,40 2,44 L-1,44 Z" fill="#2a6cb0" opacity="0.8"/>
<path d="M26,30 C32,28 38,30 40,36 C36,39 30,38 26,36 Z M10,34 C16,32 22,34 22,38 C18,42 12,44 8,44 Z" fill="#4a94d8"/>
<path d="M2,4 C12,2 30,3 40,8 C34,14 14,14 2,12 Z" fill="#4a98dc" opacity="0.7"/>
<path d="M52.6,-1 L104,-1 L104,42.5 C96,43 88,43 82,42.5 C76,40 72,36 69.4,33.2 C64,36 60,40 55.1,40.8 C52,38 51,30 51.7,23 C51.5,14 52,6 52.6,-1 Z" fill="#3a84cc"/>
<path d="M54,18 C62,14 80,12 96,18 C92,26 80,28 70,28 C62,30 58,34 55,38 Z" fill="#2a6cb0" opacity="0.8"/>
<path d="M62,26 C68,24 72,28 70,33 C66,36 62,34 60,30 Z M72,34 C80,30 88,34 88,40 C82,43 76,42 72,38 Z M86,26 C94,24 100,30 98,38 C94,40 88,36 86,30 Z" fill="#4a94d8"/>
<path d="M56,4 C70,2 90,3 102,8 C92,12 70,12 56,10 Z" fill="#4a98dc" opacity="0.7"/>
<path d="M46,32 L50.5,41 M55,32 L51,41" stroke="#b8dce8" stroke-width="1.2"/>
</g>
<text x="51" y="132.5" font-size="20.5" font-weight="bold" text-anchor="middle" fill="#fff" >3 kg</text>
</svg>
<rect x="276.7" y="516" width="103.90000000000003" height="34.2" fill="#c2c2c2"/>
<text x="328.65" y="539.3" font-size="17.6" font-weight="bold" text-anchor="middle" fill="#000" >Recovered</text>
<svg x="276.7" y="550.2" width="103.90000000000003" height="240.3" overflow="hidden">
<rect width="103.90000000000003" height="240.3" fill="url(#ebg)"/>
<g filter="url(#bl07)">
<ellipse cx="51.8" cy="166.5" rx="46" ry="39.5" fill="url(#disc)"/>
<ellipse cx="51.8" cy="168.5" rx="30.4" ry="23.7" fill="none" stroke="#1e2226" stroke-width="1"/>
<ellipse cx="39.0" cy="155.0" rx="3.4" ry="3" fill="#0c0e10"/>
<ellipse cx="64.0" cy="156.0" rx="3.4" ry="3" fill="#0c0e10"/>
<ellipse cx="26.0" cy="172.0" rx="3.4" ry="3" fill="#0c0e10"/>
<ellipse cx="77.0" cy="173.0" rx="3.4" ry="3" fill="#0c0e10"/>
<ellipse cx="39.0" cy="189.0" rx="3.4" ry="3" fill="#0c0e10"/>
<ellipse cx="63.0" cy="190.0" rx="3.4" ry="3" fill="#0c0e10"/>
<ellipse cx="52" cy="172" rx="7" ry="5.5" fill="#1a4a60"/>
<path d="M52.5,103 L52,170" stroke="#d07888" stroke-width="2.2"/>
<path d="M34,101 L72,100.5" stroke="#c8ecf4" stroke-width="3"/>
<g transform="translate(-1,75) scale(1.0,1.0)">
<path d="M-2,4 C8,-2 22,0 32,10 C38,16 44,22 50,27 C50,31 46,34 40,34 C43,38 42,44 36,46 C38,50 34,56 26,56 C22,60 10,64 -2,64 Z" fill="#4a9ade"/>
<path d="M2,10 C12,6 22,8 30,16 C24,20 12,22 2,20 Z" fill="#64b2ec" opacity="0.8"/>
<path d="M14,30 C24,30 32,32 40,34 M12,44 C22,44 30,44 36,46 M10,56 C16,56 22,56 26,56" fill="none" stroke="#2a68a8" stroke-width="1.4"/>
<path d="M-2,40 C8,46 14,54 20,62 L-2,64 Z" fill="#3478c0" opacity="0.7"/>
</g>
<g transform="translate(104,70) scale(-0.9,1.0)">
<path d="M-2,4 C8,-2 22,0 32,10 C38,16 44,22 50,27 C50,31 46,34 40,34 C43,38 42,44 36,46 C38,50 34,56 26,56 C22,60 10,64 -2,64 Z" fill="#4a9ade"/>
<path d="M2,10 C12,6 22,8 30,16 C24,20 12,22 2,20 Z" fill="#64b2ec" opacity="0.8"/>
<path d="M14,30 C24,30 32,32 40,34 M12,44 C22,44 30,44 36,46 M10,56 C16,56 22,56 26,56" fill="none" stroke="#2a68a8" stroke-width="1.4"/>
<path d="M-2,40 C8,46 14,54 20,62 L-2,64 Z" fill="#3478c0" opacity="0.7"/>
</g>
</g>
</svg>
<text x="403" y="530.5" font-size="30" font-weight="bold" text-anchor="start" fill="#000" >f</text>
<polygon points="676.8,549.9 764.8,600.7 764.8,702.3 676.8,753.1 588.8,702.3 588.8,600.7" fill="url(#fbg)"/>
<polygon points="676.8,567.3 750.4,609.8 750.4,694.8 676.8,737.3 603.2,694.8 603.2,609.8" fill="none" stroke="#9a8a8a" stroke-width="0.7"/>
<line x1="676.8" y1="549.9" x2="676.8" y2="652.3" stroke="#806868" stroke-width="0.8"/>
<line x1="764.8" y1="600.7" x2="676.8" y2="652.3" stroke="#806868" stroke-width="0.8"/>
<line x1="764.8" y1="702.3" x2="676.8" y2="652.3" stroke="#806868" stroke-width="0.8"/>
<line x1="676.8" y1="753.1" x2="676.8" y2="652.3" stroke="#806868" stroke-width="0.8"/>
<line x1="588.8" y1="702.3" x2="676.8" y2="652.3" stroke="#806868" stroke-width="0.8"/>
<line x1="588.8" y1="600.7" x2="676.8" y2="652.3" stroke="#806868" stroke-width="0.8"/>
<text x="667" y="645.6" font-size="16" font-weight="bold" text-anchor="start" fill="#000" >0.0</text>
<text x="666.5" y="667.2" font-size="16" font-weight="bold" text-anchor="start" fill="#000" >0.0</text>
<polygon points="676.8,575.8 679.0,651.0 732.0,684.2 676.8,652.3 676.8,652.3 676.8,652.3" fill="none" stroke="#a0a0a0" stroke-width="2.0" stroke-linejoin="round"/>
<polygon points="676.8,567.3 678.3,651.4 732.7,684.6 676.8,652.3 676.8,652.3 676.8,652.3" fill="none" stroke="#3cb371" stroke-width="2.0" stroke-linejoin="round"/>
<path d="M672.8,564.3 L680.8,564.3 L676.8,571.3 Z" fill="#3cb371"/>
<path d="M674.3,648.4 L682.3,648.4 L678.3,655.4 Z" fill="#3cb371"/>
<path d="M728.7,681.6 L736.7,681.6 L732.7,688.6 Z" fill="#3cb371"/>
<path d="M672.8,649.3 L680.8,649.3 L676.8,656.3 Z" fill="#3cb371"/>
<path d="M672.8,649.3 L680.8,649.3 L676.8,656.3 Z" fill="#3cb371"/>
<path d="M672.8,649.3 L680.8,649.3 L676.8,656.3 Z" fill="#3cb371"/>
<polygon points="676.8,575.8 726.9,623.4 725.4,680.3 676.8,654.0 673.1,654.4 616.4,617.4" fill="none" stroke="#6a6aa8" stroke-width="2.4" stroke-linejoin="round"/>
<path d="M676.8,571.8 L680.8,575.8 L676.8,579.8 L672.8,575.8 Z" fill="#6a6aa8"/>
<path d="M726.9,619.4 L730.9,623.4 L726.9,627.4 L722.9,623.4 Z" fill="#6a6aa8"/>
<path d="M725.4,676.3 L729.4,680.3 L725.4,684.3 L721.4,680.3 Z" fill="#6a6aa8"/>
<path d="M676.8,650.0 L680.8,654.0 L676.8,658.0 L672.8,654.0 Z" fill="#6a6aa8"/>
<path d="M673.1,650.4 L677.1,654.4 L673.1,658.4 L669.1,654.4 Z" fill="#6a6aa8"/>
<path d="M616.4,613.4 L620.4,617.4 L616.4,621.4 L612.4,617.4 Z" fill="#6a6aa8"/>
<polygon points="676.8,574.1 735.0,618.7 718.0,676.1 676.8,654.0 603.2,694.8 606.9,611.9" fill="none" stroke="#ffc000" stroke-width="2.6" stroke-linejoin="round"/>
<path d="M672.8,571.1 L680.8,571.1 L676.8,578.1 Z" fill="#ffc000"/>
<path d="M731.0,615.7 L739.0,615.7 L735.0,622.7 Z" fill="#ffc000"/>
<path d="M714.0,673.1 L722.0,673.1 L718.0,680.1 Z" fill="#ffc000"/>
<path d="M672.8,651.0 L680.8,651.0 L676.8,658.0 Z" fill="#ffc000"/>
<path d="M599.2,691.8 L607.2,691.8 L603.2,698.8 Z" fill="#ffc000"/>
<path d="M602.9,608.9 L610.9,608.9 L606.9,615.9 Z" fill="#ffc000"/>
<polygon points="676.8,574.1 739.4,616.2 750.4,694.8 676.8,654.0 603.2,694.8 666.5,646.3" fill="none" stroke="#5b9bd5" stroke-width="2.4" stroke-linejoin="round"/>
<circle cx="676.8" cy="574.1" r="3.3" fill="#5b9bd5"/>
<circle cx="739.4" cy="616.2" r="3.3" fill="#5b9bd5"/>
<circle cx="750.4" cy="694.8" r="3.3" fill="#5b9bd5"/>
<circle cx="676.8" cy="654.0" r="3.3" fill="#5b9bd5"/>
<circle cx="603.2" cy="694.8" r="3.3" fill="#5b9bd5"/>
<circle cx="666.5" cy="646.3" r="3.3" fill="#5b9bd5"/>
<polygon points="676.8,571.5 746.0,612.3 701.8,666.8 676.8,737.3 641.5,672.7 603.2,609.8" fill="none" stroke="#ff0000" stroke-width="2.4" stroke-linejoin="round"/>
<rect x="673.5" y="568.2" width="6.6" height="6.6" fill="#ff0000"/>
<rect x="742.7" y="609.0" width="6.6" height="6.6" fill="#ff0000"/>
<rect x="698.5" y="663.5" width="6.6" height="6.6" fill="#ff0000"/>
<rect x="673.5" y="734.0" width="6.6" height="6.6" fill="#ff0000"/>
<rect x="638.2" y="669.4" width="6.6" height="6.6" fill="#ff0000"/>
<rect x="599.9" y="606.5" width="6.6" height="6.6" fill="#ff0000"/>
<polygon points="676.8,571.5 695.2,641.7 693.0,661.6 676.8,737.3 673.1,654.4 660.6,642.9" fill="none" stroke="#3e6ea8" stroke-width="2.4" stroke-linejoin="round"/>
<circle cx="676.8" cy="571.5" r="3.3" fill="#3e6ea8"/>
<circle cx="695.2" cy="641.7" r="3.3" fill="#3e6ea8"/>
<circle cx="693.0" cy="661.6" r="3.3" fill="#3e6ea8"/>
<circle cx="676.8" cy="737.3" r="3.3" fill="#3e6ea8"/>
<circle cx="673.1" cy="654.4" r="3.3" fill="#3e6ea8"/>
<circle cx="660.6" cy="642.9" r="3.3" fill="#3e6ea8"/>
<polygon points="676.8,575.8 679.0,651.0 737.2,687.1 676.8,652.3 676.8,652.3 676.8,652.3" fill="none" stroke="#f07070" stroke-width="2.6" stroke-linejoin="round"/>
<polygon points="676.8,571.5 678.3,651.4 735.0,685.9 676.8,652.3 675.3,653.1 675.3,651.4" fill="none" stroke="#c8641e" stroke-width="3.2" stroke-linejoin="round"/>
<text x="648.5" y="572.2" font-size="16.5" font-weight="bold" text-anchor="start" fill="#000" >100</text>
<text x="745" y="596.3" font-size="16.5" font-weight="bold" text-anchor="start" fill="#000" >22</text>
<text x="568.5" y="617.9" font-size="16.5" font-weight="bold" text-anchor="start" fill="#000" >70</text>
<text x="766" y="698.5" font-size="16.5" font-weight="bold" text-anchor="start" fill="#000" >1100</text>
<text x="589" y="720.8" font-size="16.5" font-weight="bold" text-anchor="start" fill="#000" >100</text>
<text x="686" y="750.3" style="font-family:'Liberation Serif',serif" font-size="17.5" font-weight="bold">Yes</text>
<text x="654" y="682.6" style="font-family:'Liberation Serif',serif" font-size="16.5" font-weight="bold">None</text>
<text x="677" y="533.6" font-size="18.3" font-weight="bold" text-anchor="middle" fill="#000" >Transparency (%)</text>
<text x="578.4" y="568.6" font-size="18.6" font-weight="bold" text-anchor="end" fill="#000" >Young's modulus</text>
<text x="578.4" y="592.4" font-size="18.6" font-weight="bold" text-anchor="end" fill="#000" >(MPa)</text>
<text x="779.5" y="568.1" font-size="18.3" font-weight="bold" text-anchor="start" fill="#000" >Tensile strength</text>
<text x="779.5" y="590.8" font-size="18.3" font-weight="bold" text-anchor="start" fill="#000" >(MPa)</text>
<text x="578.4" y="727.8" font-size="18.6" font-weight="bold" text-anchor="end">Toughness (MJ<tspan dx="1">·</tspan><tspan dx="1">m</tspan><tspan font-size="12" dy="-7">-3</tspan><tspan dy="7">)</tspan></text>
<text x="773.5" y="724.9" font-size="18.3" font-weight="bold" text-anchor="start" fill="#000" >Stretchability (%)</text>
<text x="677" y="788.5" font-size="18.3" font-weight="bold" text-anchor="middle" fill="#000" >Designable shape memory</text>
<text x="1198" y="531.5" font-size="17.6" font-weight="bold" text-anchor="end" fill="#e8383d">P(DMA-co-AM)/[EE] <tspan dx="2.6">in this work 1</tspan></text>
<text x="1198" y="563.8" font-size="17.6" font-weight="bold" text-anchor="end" fill="#2f7bd8">P(TA-co-AM)/[EE] <tspan dx="2.6">in this work 2</tspan></text>
<text x="1198" y="596.1" font-size="17.6" font-weight="bold" text-anchor="end" fill="#3aa569">IG-[M] <tspan dx="2.6">ionogel</tspan></text>
<text x="1198" y="628.4" font-size="17.6" font-weight="bold" text-anchor="end" fill="#b57edc">P(SPMA-r-MMA) <tspan dx="2.6">ionogel</tspan></text>
<text x="1198" y="660.7" font-size="17.6" font-weight="bold" text-anchor="end" fill="#c9960c">P(AAm-co-AA) <tspan dx="2.6">ionogel</tspan></text>
<text x="1198" y="693.0" font-size="17.6" font-weight="bold" text-anchor="end" fill="#1fbfc6">PIL/TFSI <tspan dx="0">elastomer</tspan></text>
<text x="1198" y="725.3" font-size="17.6" font-weight="bold" text-anchor="end" fill="#7a5050">PVA10/P(iAA)y <tspan dx="2.6">hydrogel</tspan></text>
<text x="1198" y="757.6" font-size="17.6" font-weight="bold" text-anchor="end" fill="#8d9a10">PVA <tspan dx="0">hydrogel</tspan></text>
<text x="1198" y="789.9" font-size="17.6" font-weight="bold" text-anchor="end" fill="#f36b12">APN <tspan dx="0">ionogel</tspan></text>
</svg>
</body></html>
